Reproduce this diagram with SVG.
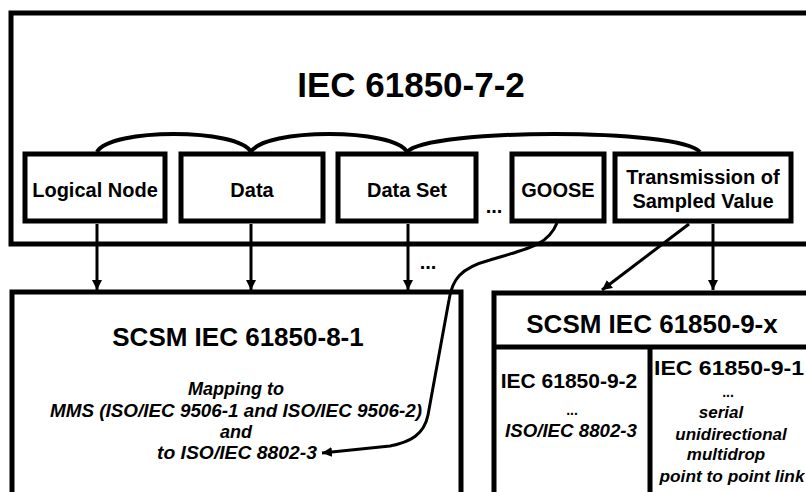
<svg xmlns="http://www.w3.org/2000/svg" width="806" height="492" viewBox="0 0 806 492">
<style>
.box{fill:none;stroke:#000;stroke-width:5}
.con{fill:none;stroke:#000;stroke-width:3}
.arc{fill:none;stroke:#000;stroke-width:4}
text{font-family:"Liberation Sans",Arial,sans-serif;font-weight:bold;fill:#000;text-anchor:middle}
.t1{font-size:35px}
.lbl{font-size:20px}
.t2{font-size:26px}
.sub{font-size:21px}
.sm{font-size:18px;font-style:italic}
.sm2{font-size:17px;font-style:italic}
.dots{font-size:14px}
</style>
<defs>
<marker id="ah" viewBox="0 0 10 10" refX="10" refY="5" markerWidth="10" markerHeight="10" orient="auto" markerUnits="userSpaceOnUse"><path d="M0,0 L10,5 L0,10 z" fill="#000"/></marker>
</defs>
<rect width="806" height="492" fill="#fff"/>

<g id="iec-61850-7-2">
<rect class="box" x="11" y="13" width="830" height="231"/>
<text class="t1" x="411" y="97">IEC 61850-7-2</text>
</g>
<g id="logical-node">
<rect class="box" x="25" y="154" width="140" height="67"/>
<text class="lbl" x="95" y="197">Logical Node</text>
</g>
<g id="data">
<rect class="box" x="181" y="154" width="142" height="67"/>
<text class="lbl" x="252" y="197">Data</text>
</g>
<g id="data-set">
<rect class="box" x="338" y="154" width="138" height="67"/>
<text class="lbl" x="407" y="197">Data Set</text>
</g>
<text class="lbl" x="494" y="213">...</text>
<g id="goose">
<rect class="box" x="512" y="154" width="92" height="67"/>
<text class="lbl" x="558" y="197">GOOSE</text>
</g>
<g id="transmission">
<rect class="box" x="615" y="154" width="176" height="67"/>
<text class="lbl" x="703" y="184">Transmission of</text>
<text class="lbl" x="703" y="208">Sampled Value</text>
</g>

<g id="scsm-8-1">
<rect class="box" x="12" y="292" width="449" height="230"/>
<text class="t2" x="238" y="346">SCSM IEC 61850-8-1</text>
<text class="sm" x="236" y="395">Mapping to</text>
<text class="sm" x="236" y="417" textLength="372" lengthAdjust="spacingAndGlyphs">MMS (ISO/IEC 9506-1 and ISO/IEC 9506-2)</text>
<text class="sm" x="236" y="438">and</text>
<text class="sm" x="237" y="459" textLength="160" lengthAdjust="spacingAndGlyphs">to ISO/IEC 8802-3</text>
</g>

<g id="scsm-9-x">
<rect class="box" x="494" y="293" width="340" height="230"/>
<line class="box" x1="494" y1="347" x2="806" y2="347"/>
<line class="box" x1="650" y1="347" x2="650" y2="492"/>
<text class="t2" x="652" y="333">SCSM IEC 61850-9-x</text>
</g>
<g id="iec-61850-9-2">
<text class="sub" x="569" y="388">IEC 61850-9-2</text>
<text class="dots" x="572" y="415">...</text>
<text class="sm" x="571" y="437" textLength="132" lengthAdjust="spacingAndGlyphs">ISO/IEC 8802-3</text>
</g>
<g id="iec-61850-9-1">
<text class="sub" x="729" y="375" textLength="150" lengthAdjust="spacingAndGlyphs">IEC 61850-9-1</text>
<text class="dots" x="728" y="397">...</text>
<text class="sm2" x="721" y="418">serial</text>
<text class="sm2" x="731" y="440">unidirectional</text>
<text class="sm2" x="726" y="460">multidrop</text>
<text class="sm2" x="732" y="482" textLength="145" lengthAdjust="spacingAndGlyphs">point to point link</text>
</g>

<g id="connectors">
<path class="arc" d="M97,152 C110,128 238,128 251,152"/>
<path class="arc" d="M251,152 C264,128 394,128 407,152"/>
<path class="arc" d="M407,152 C428,128 680,128 700,152"/>
<line class="con" x1="97" y1="224" x2="97" y2="290" marker-end="url(#ah)"/>
<line class="con" x1="251" y1="224" x2="251" y2="290" marker-end="url(#ah)"/>
<line class="con" x1="408" y1="224" x2="408" y2="290" marker-end="url(#ah)"/>
<text class="lbl" x="428" y="269">...</text>
<line class="con" x1="713" y1="224" x2="713" y2="290" marker-end="url(#ah)"/>
<line class="con" x1="689" y1="224" x2="602" y2="290" marker-end="url(#ah)"/>
<path class="con" d="M557,223 C548,245 530,248 490,260 C460,268 452,280 449,300 L428,415 C424,435 410,442 390,446 L322,453" marker-end="url(#ah)"/>
</g>
</svg>
